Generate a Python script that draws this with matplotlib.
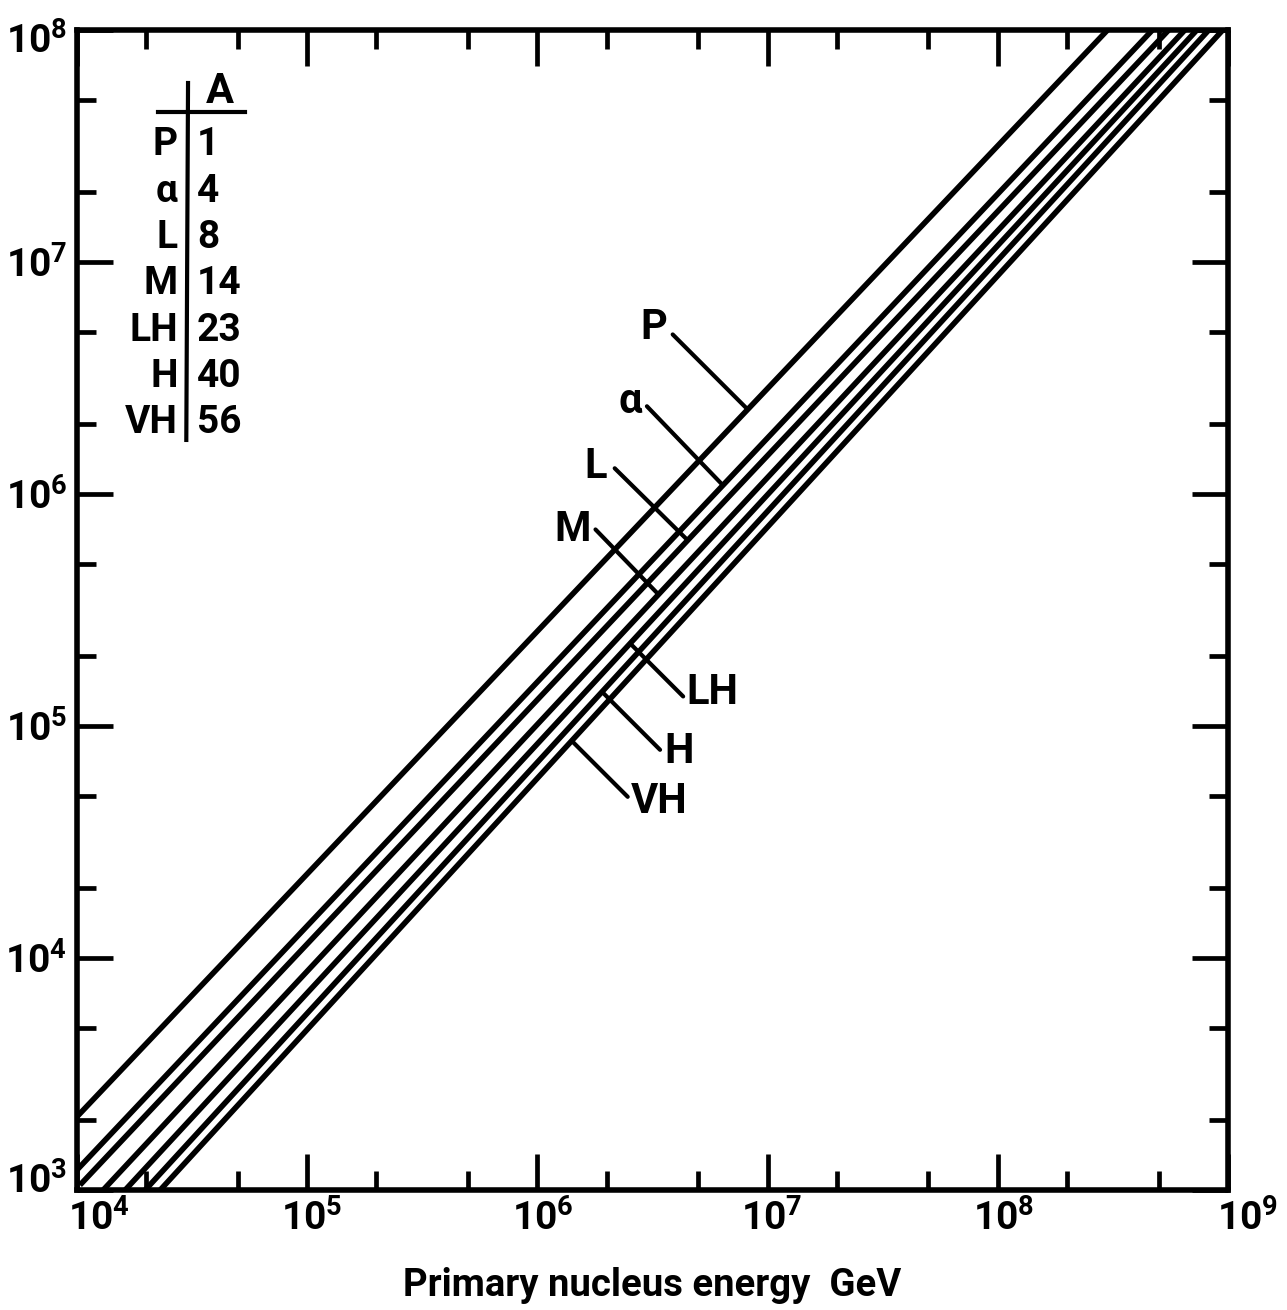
import numpy as np
import matplotlib
matplotlib.use('Agg')
import matplotlib.pyplot as plt
from matplotlib.ticker import FixedLocator, FixedFormatter, NullFormatter
from matplotlib.transforms import ScaledTranslation

plt.rcParams['font.family'] = ['Roboto', 'DejaVu Sans']
plt.rcParams['font.weight'] = 'bold'
plt.rcParams['axes.labelweight'] = 'bold'
plt.rcParams['mathtext.fontset'] = 'custom'
plt.rcParams['mathtext.rm'] = 'Roboto:bold'
plt.rcParams['mathtext.bf'] = 'Roboto:bold'

# primaries and their mass numbers
species = ['P', 'α', 'L', 'M', 'LH', 'H', 'VH']
mass_no = [1, 4, 8, 14, 23, 40, 56]

# end points of each straight line (energy GeV, y value)
e_start = [1.0e4, 1.0e4, 1.03e4, 1.30e4, 1.62e4, 1.98e4, 2.30e4]
n_start = [2.07e3, 1.22e3, 1.05e3, 1.0e3, 1.0e3, 1.0e3, 1.0e3]
e_end = [3.0e8, 4.7e8, 5.53e8, 6.5e8, 7.33e8, 8.26e8, 9.5e8]
n_end = [1e8, 1e8, 1e8, 1e8, 1e8, 1e8, 1e8]

# energy where the name pointer touches each line
e_tag = [8.2e6, 6.4e6, 4.5e6, 3.36e6, 2.53e6, 1.91e6, 1.41e6]

x_exp = [4, 5, 6, 7, 8, 9]
y_exp = [3, 4, 5, 6, 7, 8]

# pointer start / label centre, offset in pixels from the touching point
ptr_off = [(-75, 75), (-76, 79), (-73, 72), (-63, 65), (53, -53), (58, -58), (56, -56)]
lab_off = [(-94, 82), (-93, 84), (-92, 74), (-86, 65), (82, -49), (77, -60), (87, -61)]


def on_line(i, e):
    le0, le1 = np.log10(e_start[i]), np.log10(e_end[i])
    ln0, ln1 = np.log10(n_start[i]), np.log10(n_end[i])
    t = (np.log10(e) - le0) / (le1 - le0)
    return 10 ** (ln0 + t * (ln1 - ln0))


fig = plt.figure(figsize=(12.87, 13.10), dpi=100)
ax = fig.add_axes([0.0598, 0.0916, 0.8943, 0.8855])
ax.set_xscale('log')
ax.set_yscale('log')
ax.set_xlim(1e4, 1e9)
ax.set_ylim(1e3, 1e8)

for i in range(len(species)):
    ax.plot([e_start[i], e_end[i]], [n_start[i], n_end[i]], color='black',
            lw=4.0, solid_capstyle='butt')

for i in range(len(species)):
    e = e_tag[i]
    n = on_line(i, e)
    ax.annotate('', xy=(e, n), xytext=ptr_off[i], textcoords='offset pixels',
                arrowprops=dict(arrowstyle='-', lw=3.0, color='black',
                                shrinkA=0, shrinkB=0))
    ax.annotate(species[i], xy=(e, n), xytext=lab_off[i], textcoords='offset pixels',
                ha='center', va='center', fontsize=30, fontweight='bold')

# ticks
minor = lambda exps: [m * 10.0 ** k for k in exps for m in (2, 5)]
ax.xaxis.set_major_locator(FixedLocator([10.0 ** k for k in x_exp]))
ax.yaxis.set_major_locator(FixedLocator([10.0 ** k for k in y_exp]))
ax.xaxis.set_minor_locator(FixedLocator(minor(x_exp[:-1])))
ax.yaxis.set_minor_locator(FixedLocator(minor(y_exp[:-1])))
ax.xaxis.set_major_formatter(FixedFormatter([r'$\mathbf{10^{%d}}$' % k for k in x_exp]))
ax.yaxis.set_major_formatter(FixedFormatter([r'$\mathbf{10^{%d}}$' % k for k in y_exp]))
ax.xaxis.set_minor_formatter(NullFormatter())
ax.yaxis.set_minor_formatter(NullFormatter())
ax.tick_params(which='both', direction='in', top=True, right=True, width=3.4,
               labelsize=28, pad=7)
ax.tick_params(which='major', length=26)
ax.tick_params(which='minor', length=14)
for s in ax.spines.values():
    s.set_linewidth(4.0)

# nudge the corner labels away from each other, as in the drawing
x_shift = [22, 5, 5, 4, 6, 20]
y_shift = [12, 0, 0, 0, 0, -8]
for lab, dx in zip(ax.get_xticklabels(), x_shift):
    lab.set_transform(lab.get_transform() + ScaledTranslation(dx / 100, 0, fig.dpi_scale_trans))
for lab, dy in zip(ax.get_yticklabels(), y_shift):
    lab.set_transform(lab.get_transform() + ScaledTranslation(0, dy / 100, fig.dpi_scale_trans))

ax.set_xlabel('Primary nucleus energy  GeV', fontsize=27.5, fontweight='bold', labelpad=20)

# mass number table
ax.text(0.1242, 0.9466, 'A', transform=ax.transAxes, ha='center', va='center',
        fontsize=30, fontweight='bold')
ax.plot([0.0965, 0.0950], [0.9543, 0.6466], transform=ax.transAxes, color='black', lw=3.0)
ax.plot([0.0704, 0.146], [0.9293, 0.9293], transform=ax.transAxes, color='black', lw=3.0)
for i in range(len(species)):
    fy = 0.9009 - i * 0.0399
    ax.text(0.0877, fy, species[i], transform=ax.transAxes, ha='right', va='center',
            fontsize=28, fontweight='bold')
    ax.text(0.1043, fy, str(mass_no[i]), transform=ax.transAxes, ha='left', va='center',
            fontsize=28, fontweight='bold')

fig.savefig('out.png', dpi=100)
